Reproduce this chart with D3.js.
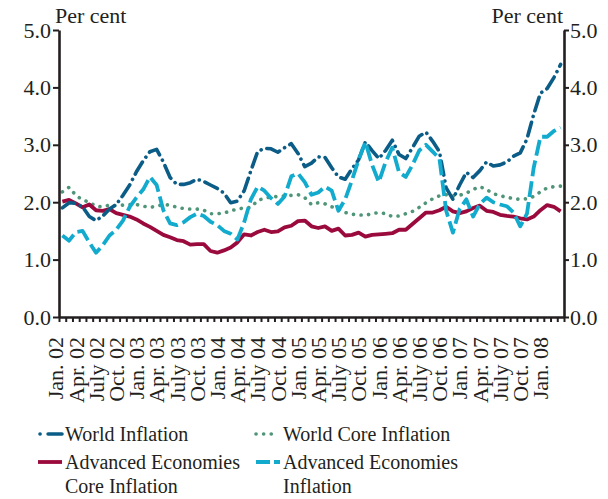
<!DOCTYPE html>
<html>
<head>
<meta charset="utf-8">
<script src="https://cdn.jsdelivr.net/npm/d3@7"></script>
<style>
  body { margin: 0; background: #fff; }
  text { font-family: "Liberation Serif", "DejaVu Serif", serif; fill: #231f20; }
</style>
</head>
<body>
<script>
// months Jan 2002 .. Mar 2008
var months = d3.timeMonth.range(new Date(2002, 0, 1), new Date(2008, 3, 1));

var tickLabels = ["Jan. 02", "Apr. 02", "July 02", "Oct. 02", "Jan. 03", "Apr. 03", "July 03", "Oct. 03",
  "Jan. 04", "Apr. 04", "July 04", "Oct. 04", "Jan. 05", "Apr. 05", "July 05", "Oct. 05",
  "Jan. 06", "Apr. 06", "July 06", "Oct. 06", "Jan. 07", "Apr. 07", "July 07", "Oct. 07", "Jan. 08"];

var worldInflation = [1.90, 1.99, 1.98, 1.92, 1.75, 1.68, 1.76, 1.88, 1.96, 2.12, 2.30, 2.53,
  2.72, 2.88, 2.92, 2.70, 2.43, 2.31, 2.31, 2.34, 2.40, 2.36, 2.30, 2.24,
  2.16, 1.99, 2.02, 2.20, 2.55, 2.88, 2.94, 2.93, 2.87, 2.95, 3.02, 2.85,
  2.62, 2.68, 2.79, 2.78, 2.60, 2.44, 2.40, 2.58, 2.74, 3.05, 2.90, 2.76,
  2.90, 3.08, 2.83, 2.76, 2.95, 3.15, 3.22, 3.06, 2.88, 2.25, 2.05, 2.30,
  2.52, 2.43, 2.55, 2.70, 2.63, 2.65, 2.70, 2.80, 2.86, 3.10, 3.53, 3.90,
  3.98, 4.17, 4.40];

var worldCore = [2.18, 2.26, 2.12, 2.04, 2.00, 1.93, 1.92, 1.95, 1.94, 1.95, 1.96, 1.96,
  1.93, 1.91, 1.93, 1.96, 1.95, 1.91, 1.89, 1.88, 1.88, 1.86, 1.80, 1.80,
  1.81, 1.85, 1.88, 1.90, 1.91, 2.03, 2.07, 2.09, 2.10, 2.11, 2.12, 2.13,
  2.08, 1.96, 1.99, 1.97, 1.92, 1.88, 1.82, 1.79, 1.78, 1.77, 1.80, 1.82,
  1.80, 1.75, 1.76, 1.80, 1.84, 1.91, 1.99, 2.06, 2.11, 2.13, 2.11, 2.12,
  2.16, 2.22, 2.27, 2.22, 2.15, 2.11, 2.09, 2.06, 2.05, 2.06, 2.10, 2.18,
  2.25, 2.27, 2.28];

var advCore = [2.01, 2.04, 1.98, 1.91, 1.96, 1.86, 1.85, 1.88, 1.81, 1.78, 1.75, 1.70,
  1.63, 1.57, 1.50, 1.43, 1.39, 1.34, 1.32, 1.26, 1.27, 1.27, 1.15, 1.12,
  1.16, 1.21, 1.30, 1.44, 1.42, 1.48, 1.52, 1.48, 1.49, 1.56, 1.59, 1.67,
  1.68, 1.58, 1.55, 1.58, 1.50, 1.54, 1.42, 1.43, 1.47, 1.40, 1.43, 1.44,
  1.45, 1.46, 1.52, 1.52, 1.62, 1.72, 1.82, 1.82, 1.86, 1.92, 1.84, 1.81,
  1.84, 1.90, 1.94, 1.85, 1.83, 1.78, 1.76, 1.75, 1.72, 1.70, 1.75, 1.86,
  1.95, 1.92, 1.84];

var advInflation = [1.42, 1.33, 1.48, 1.50, 1.30, 1.12, 1.25, 1.42, 1.52, 1.68, 1.92, 2.08,
  2.22, 2.44, 2.30, 1.86, 1.63, 1.60, 1.65, 1.74, 1.80, 1.76, 1.66, 1.60,
  1.50, 1.45, 1.35, 1.65, 2.05, 2.27, 2.20, 2.07, 1.97, 2.10, 2.45, 2.50,
  2.35, 2.13, 2.17, 2.27, 2.20, 1.85, 2.05, 2.38, 2.74, 3.05, 2.65, 2.35,
  2.70, 2.95, 2.52, 2.44, 2.65, 2.90, 3.00, 2.88, 2.76, 1.85, 1.47, 1.88,
  2.05, 1.75, 1.97, 2.08, 2.00, 1.96, 1.93, 1.82, 1.58, 1.80, 2.60, 3.14,
  3.14, 3.24, 3.30];

var yTicks = [0, 1, 2, 3, 4, 5];

var W = 608, H = 499;
var plotL = 59, plotR = 564, plotT = 30, plotB = 317;
var ink = "#231f20";

var svg = d3.select("body").append("svg").attr("width", W).attr("height", H);

var x = d3.scaleBand().domain(months).range([plotL, plotR]).padding(0);
var xc = function(i) { return x(months[i]) + x.bandwidth() / 2; };
var xTick = d3.scaleLinear().domain([0, months.length]).range([plotL, plotR]);
var y = d3.scaleLinear().domain([0, 5]).range([plotB, plotT]);

// series, drawn in this order
var series = [
  { name: "World Core Inflation", values: worldCore, color: "#4f9577", dash: "0.1,7.5", cap: "round", width: 3.6 },
  { name: "Advanced Economies Core Inflation", values: advCore, color: "#9b0a3c", dash: null, cap: "butt", width: 3.8 },
  { name: "World Inflation", values: worldInflation, color: "#0b5d87", dash: "14,6,0.1,6", cap: "round", width: 3.6 },
  { name: "Advanced Economies Inflation", values: advInflation, color: "#12aacd", dash: "16,5", cap: "butt", width: 3.8 }
];

var line = d3.line()
  .x(function(d, i) { return xc(i); })
  .y(function(d) { return y(d); });

svg.selectAll("path.series")
  .data(series)
  .enter()
  .append("path")
  .attr("class", "series")
  .attr("d", function(s) { return line(s.values); })
  .attr("fill", "none")
  .attr("stroke", function(s) { return s.color; })
  .attr("stroke-width", function(s) { return s.width; })
  .attr("stroke-dasharray", function(s) { return s.dash; })
  .attr("stroke-linecap", function(s) { return s.cap; })
  .attr("stroke-linejoin", "round");

// axes
var yLeft = svg.append("g").attr("transform", "translate(" + plotL + ",0)")
  .call(d3.axisLeft(y).tickValues(yTicks).tickFormat(d3.format(".1f")).tickSize(6).tickSizeOuter(0));
var yRight = svg.append("g").attr("transform", "translate(" + plotR + ",0)")
  .call(d3.axisRight(y).tickValues(yTicks).tickFormat(d3.format(".1f")).tickSize(5).tickSizeOuter(0));
var xAxis = svg.append("g").attr("transform", "translate(0," + plotB + ")")
  .call(d3.axisBottom(xTick).tickValues(d3.range(months.length + 1)).tickFormat("").tickSize(5).tickSizeOuter(0));

[yLeft, yRight, xAxis].forEach(function(g) {
  g.select(".domain").attr("stroke", ink).attr("stroke-width", 2.6);
  g.selectAll(".tick line").attr("stroke", ink).attr("stroke-width", 2);
  g.selectAll(".tick text").attr("fill", ink).style("font-size", "22px")
    .style("font-family", "Liberation Serif, serif");
});
yLeft.selectAll(".tick text").attr("x", -8);
yRight.selectAll(".tick text").attr("x", 6);

// quarterly month labels, rotated
svg.selectAll("text.xlab")
  .data(tickLabels)
  .enter()
  .append("text")
  .attr("class", "xlab")
  .attr("transform", function(d, i) { return "translate(" + (xc(i * 3) + 1) + ",337) rotate(-90)"; })
  .attr("text-anchor", "end")
  .style("font-size", "22px")
  .text(function(d) { return d; });

svg.append("text").attr("x", 55).attr("y", 23).style("font-size", "22px").text("Per cent");
svg.append("text").attr("x", 563).attr("y", 23).attr("text-anchor", "end").style("font-size", "22px").text("Per cent");

// legend
var legend = [
  { s: series[2], x: 38, y: 434, lines: ["World Inflation"] },
  { s: series[0], x: 256, y: 434, lines: ["World Core Inflation"] },
  { s: series[1], x: 38, y: 462, lines: ["Advanced Economies", "Core Inflation"] },
  { s: series[3], x: 256, y: 462, lines: ["Advanced Economies", "Inflation"] }
];

var lg = svg.selectAll("g.leg").data(legend).enter().append("g").attr("class", "leg");

lg.append("line")
  .attr("x1", function(d) { return d.s === series[2] ? 40 : d.x; })
  .attr("x2", function(d) { return d.x + (d.s === series[0] ? 21 : 24); })
  .attr("y1", function(d) { return d.y; })
  .attr("y2", function(d) { return d.y; })
  .attr("stroke", function(d) { return d.s.color; })
  .attr("stroke-width", function(d) { return d.s.width; })
  .attr("stroke-dasharray", function(d) {
    if (d.s === series[2]) return "0.1,8,14";
    if (d.s === series[3]) return "14,4,6";
    return d.s.dash;
  })
  .attr("stroke-linecap", function(d) { return d.s.cap; });

lg.each(function(d) {
  var g = d3.select(this);
  d.lines.forEach(function(t, k) {
    g.append("text")
      .attr("x", d.x + 27)
      .attr("y", d.y + 7 + k * 24)
      .style("font-size", "20px")
      .text(t);
  });
});
</script>
</body>
</html>
